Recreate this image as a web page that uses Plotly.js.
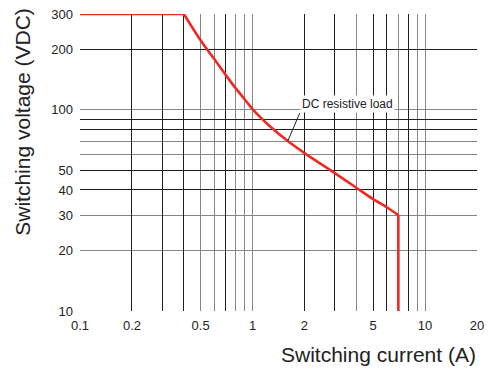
<!DOCTYPE html>
<html>
<head>
<meta charset="utf-8">
<script src="https://cdn.plot.ly/plotly-3.0.1.min.js"></script>
<style>html,body{margin:0;padding:0;background:#fff}#chart{width:492px;height:369px}</style>
</head>
<body>
<div id="chart"></div>
<script>
// Data (DC resistive load limit curve)
const current = [0.1, 0.4, 0.5, 0.6, 0.7, 0.8, 0.9, 1, 1.3, 1.6, 2, 3, 4, 5, 6, 7, 7];
const voltage = [300, 300, 222, 179, 149, 128, 113, 101, 81, 70, 61, 48.5, 41, 36, 32.8, 30, 10];

// Tick labels
const xTickVals = [0.1, 0.2, 0.5, 1, 2, 5, 10, 20];
const xTickText = ['0.1', '0.2', '0.5', '1', '2', '5', '10', '20'];
const yTickVals = [10, 20, 30, 40, 50, 100, 200, 300];
const yTickText = ['10', '20', '30', '40', '50', '100', '200', '300'];

// Grid lines (dark and light)
const xGridDark = [0.2, 0.3, 0.4, 0.7, 2, 3, 5, 6, 8, 20];
const xGridLight = [0.1, 0.5, 0.6, 0.8, 0.9, 1, 4, 7, 9, 10];
const yGridDark = [40, 50, 80, 90, 200];
const yGridLight = [10, 20, 30, 60, 70, 100, 300];

const annIndex = 9; // point where the "DC resistive load" leader touches the curve

const xRange = [Math.log10(0.1), Math.log10(20)];
const yRange = [Math.log10(10), Math.log10(300)];
const font = 'Liberation Sans, Arial, sans-serif';
const red = '#ee2a24';

function gridAxis(vals, color, overlay, anchor) {
  return {
    type: 'log', range: overlay[0] === 'x' ? xRange : yRange, autorange: false,
    overlaying: overlay, anchor: anchor,
    tickmode: 'array', tickvals: vals, showticklabels: false, ticks: '',
    showgrid: true, gridcolor: color, gridwidth: 1, zeroline: false, showline: false
  };
}

// curve split: flat top, curved part, vertical drop
const last = current.length - 1;
const traces = [
  // invisible carriers so that every axis pair is drawn
  { x: current, y: voltage, xaxis: 'x', yaxis: 'y', mode: 'lines', opacity: 0,
    hoverinfo: 'skip', showlegend: false },
  { x: current, y: voltage, xaxis: 'x2', yaxis: 'y2', mode: 'lines', opacity: 0,
    hoverinfo: 'skip', showlegend: false },
  { x: current.slice(0, 2), y: voltage.slice(0, 2), xaxis: 'x3', yaxis: 'y3', mode: 'lines',
    line: { color: red, width: 2.6 }, hoverinfo: 'skip', showlegend: false },
  { x: current.slice(1, last), y: voltage.slice(1, last), xaxis: 'x3', yaxis: 'y3', mode: 'lines',
    line: { color: red, width: 2.6, shape: 'spline', smoothing: 0.8 }, hoverinfo: 'skip', showlegend: false },
  { x: current.slice(last - 1), y: voltage.slice(last - 1), xaxis: 'x3', yaxis: 'y3', mode: 'lines',
    line: { color: red, width: 2.6 }, hoverinfo: 'skip', showlegend: false }
];

const layout = {
  width: 492, height: 369,
  margin: { l: 80, r: 15, t: 14, b: 58 },
  paper_bgcolor: '#fff', plot_bgcolor: '#fff',
  showlegend: false,
  font: { family: font, color: '#222', size: 13 },
  xaxis: { type: 'log', range: xRange, autorange: false, tickmode: 'array',
           tickvals: xTickVals, ticktext: xTickText, showgrid: false, zeroline: false,
           showline: false, ticks: '', ticklabelstandoff: 5,
           tickfont: { family: font, size: 13, color: '#222' }, anchor: 'y' },
  yaxis: { type: 'log', range: yRange, autorange: false, tickmode: 'array',
           tickvals: yTickVals, ticktext: yTickText, showgrid: false, zeroline: false,
           showline: false, ticks: '', ticklabelstandoff: 6,
           tickfont: { family: font, size: 13, color: '#222' }, anchor: 'x' },
  xaxis2: gridAxis(xGridLight, '#858585', 'x', 'y2'),
  yaxis2: gridAxis(yGridLight, '#858585', 'y', 'x2'),
  xaxis3: gridAxis(xGridDark, '#1e1e1e', 'x', 'y3'),
  yaxis3: gridAxis(yGridDark, '#1e1e1e', 'y', 'x3'),
  annotations: [
    { xref: 'x3', yref: 'y3', x: Math.log10(current[annIndex]), y: Math.log10(voltage[annIndex]),
      text: 'DC resistive load', showarrow: true, arrowhead: 0, arrowwidth: 1, arrowcolor: '#222',
      ax: 12, ay: -28, xanchor: 'left', yanchor: 'bottom',
      font: { family: font, size: 12, color: '#222' }, bgcolor: '#fff' },
    { xref: 'paper', yref: 'paper', x: 1.003, y: -0.148, xanchor: 'right', yanchor: 'middle',
      text: 'Switching current (A)', showarrow: false,
      font: { family: font, size: 21, color: '#222' } },
    { xref: 'paper', yref: 'paper', x: -0.147, y: 0.636, xanchor: 'center', yanchor: 'middle',
      text: 'Switching voltage (VDC)', textangle: -90, showarrow: false,
      font: { family: font, size: 21, color: '#222' } }
  ]
};

Plotly.newPlot('chart', traces, layout, { staticPlot: true, displayModeBar: false });
</script>
</body>
</html>
